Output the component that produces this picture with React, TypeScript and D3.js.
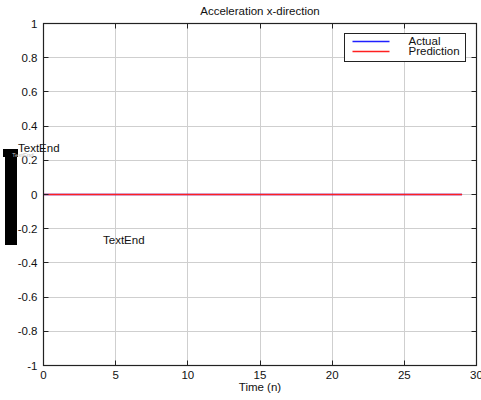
import React, { useEffect, useRef } from 'react';
import * as d3 from 'd3';

// time steps and the two series (all flat at zero)
const timeSteps = [0, 1, 2, 3, 4, 5, 6, 7, 8, 9, 10, 11, 12, 13, 14, 15, 16, 17, 18, 19, 20, 21, 22, 23, 24, 25, 26, 27, 28, 29];
const actualValues = [0, 0, 0, 0, 0, 0, 0, 0, 0, 0, 0, 0, 0, 0, 0, 0, 0, 0, 0, 0, 0, 0, 0, 0, 0, 0, 0, 0, 0, 0];
const predictionValues = [0, 0, 0, 0, 0, 0, 0, 0, 0, 0, 0, 0, 0, 0, 0, 0, 0, 0, 0, 0, 0, 0, 0, 0, 0, 0, 0, 0, 0, 0];

const xTicks = [0, 5, 10, 15, 20, 25, 30];
const yTicks = [-1, -0.8, -0.6, -0.4, -0.2, 0, 0.2, 0.4, 0.6, 0.8, 1];

const seriesNames = ['Actual', 'Prediction'];
const seriesColors = ['#2020ff', '#ff2020'];

const width = 481;
const height = 400;
const font = '"Liberation Sans", Arial, Helvetica, sans-serif';

const App: React.FC = () => {
  const svgRef = useRef<SVGSVGElement | null>(null);

  useEffect(() => {
    if (!svgRef.current) return;
    const svg = d3.select(svgRef.current);
    svg.selectAll('*').remove();

    const margin = { top: 23, right: 5, bottom: 35, left: 43 };
    const innerWidth = width - margin.left - margin.right;
    const innerHeight = height - margin.top - margin.bottom;

    const x = d3.scaleLinear().domain([0, 30]).range([0, innerWidth]);
    const y = d3.scaleLinear().domain([-1, 1]).range([innerHeight, 0]);

    svg.append('rect').attr('width', width).attr('height', height).attr('fill', '#fff');

    const g = svg.append('g').attr('transform', `translate(${margin.left + 0.5},${margin.top + 0.5})`);

    // grid
    g.selectAll('line.gx')
      .data(xTicks.slice(1, -1))
      .join('line')
      .attr('class', 'gx')
      .attr('x1', d => Math.round(x(d)))
      .attr('x2', d => Math.round(x(d)))
      .attr('y1', 0)
      .attr('y2', innerHeight)
      .attr('stroke', '#cfcfcf')
      .attr('stroke-width', 1);
    g.selectAll('line.gy')
      .data(yTicks.slice(1, -1))
      .join('line')
      .attr('class', 'gy')
      .attr('x1', 0)
      .attr('x2', innerWidth)
      .attr('y1', d => Math.round(y(d)))
      .attr('y2', d => Math.round(y(d)))
      .attr('stroke', '#cfcfcf')
      .attr('stroke-width', 1);

    // series lines
    const line = d3
      .line<number>()
      .x((_, i) => x(timeSteps[i]))
      .y(d => Math.round(y(d)));
    [actualValues, predictionValues].forEach((vals, i) => {
      g.append('path')
        .datum(vals)
        .attr('fill', 'none')
        .attr('stroke', seriesColors[i])
        .attr('stroke-width', 1.3)
        .attr('d', line);
    });

    // ticks (inward, on all four sides)
    const tickLen = 5;
    xTicks.forEach(t => {
      const px = Math.round(x(t));
      g.append('line').attr('x1', px).attr('x2', px).attr('y1', innerHeight).attr('y2', innerHeight - tickLen).attr('stroke', '#222');
      g.append('line').attr('x1', px).attr('x2', px).attr('y1', 0).attr('y2', tickLen).attr('stroke', '#222');
    });
    yTicks.forEach(t => {
      const py = Math.round(y(t));
      g.append('line').attr('x1', 0).attr('x2', tickLen).attr('y1', py).attr('y2', py).attr('stroke', '#222');
      g.append('line').attr('x1', innerWidth).attr('x2', innerWidth - tickLen).attr('y1', py).attr('y2', py).attr('stroke', '#222');
    });

    // axis box
    g.append('rect')
      .attr('width', innerWidth)
      .attr('height', innerHeight)
      .attr('fill', 'none')
      .attr('stroke', '#222')
      .attr('stroke-width', 1.2);

    // tick labels
    g.selectAll('text.xl')
      .data(xTicks)
      .join('text')
      .attr('class', 'xl')
      .attr('x', d => x(d))
      .attr('y', innerHeight + 13)
      .attr('text-anchor', 'middle')
      .attr('font-family', font)
      .attr('font-size', 11.5)
      .attr('fill', '#111')
      .text(d => String(d));
    g.selectAll('text.yl')
      .data(yTicks)
      .join('text')
      .attr('class', 'yl')
      .attr('x', -6)
      .attr('y', d => y(d) + 4)
      .attr('text-anchor', 'end')
      .attr('font-family', font)
      .attr('font-size', 11.5)
      .attr('fill', '#111')
      .text(d => String(d));

    // axis label + title
    g.append('text')
      .attr('x', innerWidth / 2)
      .attr('y', innerHeight + 25)
      .attr('text-anchor', 'middle')
      .attr('font-family', font)
      .attr('font-size', 11.5)
      .attr('fill', '#111')
      .text('Time (n)');
    g.append('text')
      .attr('x', innerWidth / 2)
      .attr('y', -9)
      .attr('text-anchor', 'middle')
      .attr('font-family', font)
      .attr('font-size', 11.5)
      .attr('fill', '#111')
      .text('Acceleration x-direction');

    // legend
    const legend = svg.append('g').attr('transform', 'translate(344.5,33.5)');
    legend.append('rect').attr('width', 121).attr('height', 28).attr('fill', '#fff').attr('stroke', '#222').attr('stroke-width', 1);
    seriesNames.forEach((name, i) => {
      const ly = 8 + i * 10;
      legend.append('line').attr('x1', 8).attr('x2', 45).attr('y1', ly).attr('y2', ly).attr('stroke', seriesColors[i]).attr('stroke-width', 1.3);
      legend.append('text')
        .attr('x', 64)
        .attr('y', ly + 3.5)
        .attr('font-family', font)
        .attr('font-size', 11.5)
        .attr('fill', '#111')
        .text(name);
    });

    // stray text/artifacts on the left
    svg.append('rect').attr('x', 5).attr('y', 149).attr('width', 12).attr('height', 96).attr('fill', '#000');
    svg.append('rect').attr('x', 3).attr('y', 149).attr('width', 15).attr('height', 8).attr('fill', '#000');
    svg.append('text')
      .attr('x', 12)
      .attr('y', 157)
      .attr('font-family', font)
      .attr('font-size', 6)
      .attr('fill', '#bbb')
      .text('TextEnd');
    svg.append('text')
      .attr('x', 18)
      .attr('y', 152)
      .attr('font-family', font)
      .attr('font-size', 11.5)
      .attr('fill', '#111')
      .text('TextEnd');
    svg.append('text')
      .attr('x', 103)
      .attr('y', 244)
      .attr('font-family', font)
      .attr('font-size', 11.5)
      .attr('fill', '#111')
      .text('TextEnd');
  }, []);

  return (
    <svg
      ref={svgRef}
      width={width}
      height={height}
      style={{ position: 'absolute', left: 0, top: 0 }}
    />
  );
};

export default App;
